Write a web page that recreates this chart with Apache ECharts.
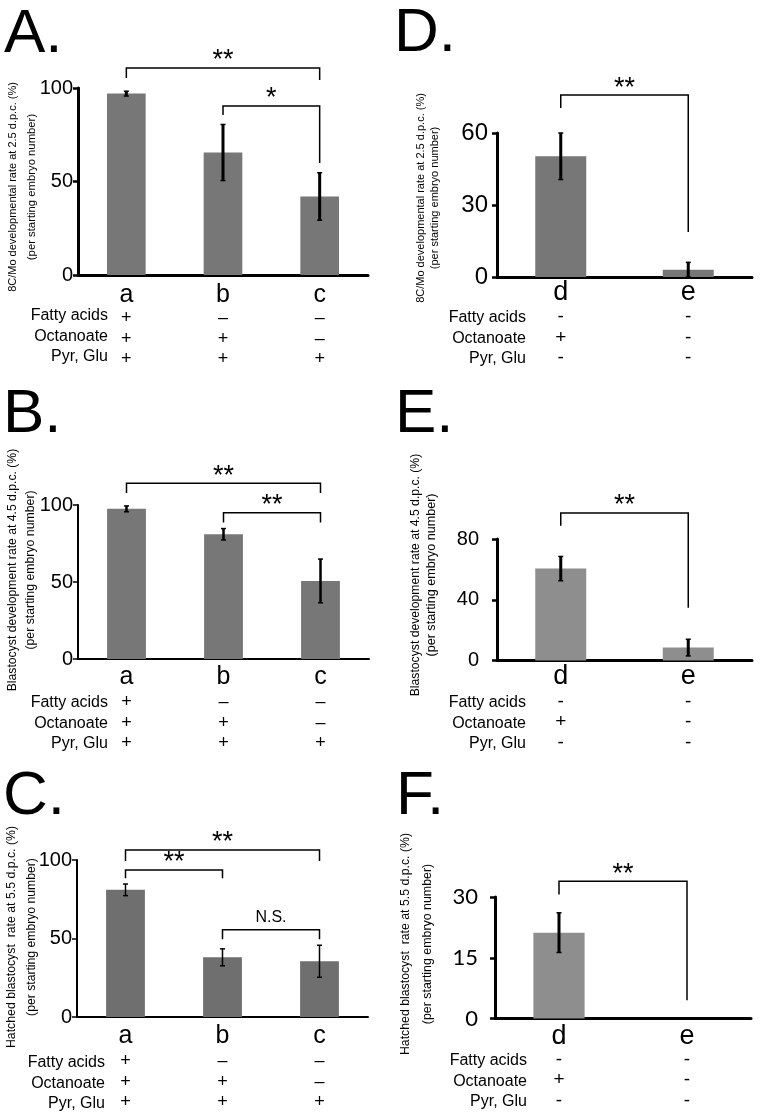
<!DOCTYPE html>
<html>
<head>
<meta charset="utf-8">
<script src="https://cdn.jsdelivr.net/npm/echarts@6/dist/echarts.min.js"></script>
<style>
  html, body { margin: 0; padding: 0; background: #fff; }
  #main { width: 760px; height: 1118px; }
</style>
</head>
<body>
<div id="main"></div>
<script>
// categories and culture conditions
var catsABC = ['a', 'b', 'c'];
var catsDEF = ['d', 'e'];
var rowNames = ['Fatty acids', 'Octanoate', 'Pyr, Glu'];
var marksABC = [['+', '–', '–'], ['+', '+', '–'], ['+', '+', '+']];
var marksDEF = [['-', '-'], ['+', '-'], ['-', '-']];

// means and error bars (%)
var valA = [97, 65.5, 42];    var errA = [1.3, 15, 12.7];
var valB = [97.5, 81, 50.7];  var errB = [1.9, 3.7, 14.2];
var valC = [81, 38, 35.5];    var errC = [3.7, 5.4, 10.2];
var valD = [50.3, 3];         var errD = [9.7, 3.1];
var valE = [60.5, 8.5];       var errE = [8, 5.5];
var valF = [21.2, 0];         var errF = [4.9, 0];

// significance: [from, to, label]
var sigA = [[0, 2, '**'], [1, 2, '*']];
var sigB = [[0, 2, '**'], [1, 2, '**']];
var sigC = [[0, 2, '**'], [0, 1, '**'], [1, 2, 'N.S.']];
var sigD = [[0, 1, '**']];
var sigE = [[0, 1, '**']];
var sigF = [[0, 1, '**']];

// y axis ticks
var ticksA = [0, 50, 100];
var ticksB = [0, 50, 100];
var ticksC = [0, 50, 100];
var ticksD = [0, 30, 60];
var ticksE = [0, 40, 80];
var ticksF = [0, 15, 30];

var title2 = '(per starting embryo number)';

var FONT = '"Liberation Sans", Arial, sans-serif';

// layout of each panel
var panels = [
  { cats: catsABC, vals: valA, errs: errA, sig: sigA, ticks: ticksA, marks: marksABC,
    grid: { left: 78, top: 88, width: 290, height: 187 }, color: '#777777', axisW: 3, errW: 3,
    brk: [[110.7, 105.3, 104.3], [90.4, 85.6, 59.9]],
    letter: [4, 53], t: ['8C/Mo developmental rate at 2.5 d.p.c. (%)', 13, 32, 187, 11, 11.3],
    rows: [108, 316], tickFont: 20, tickMargin: 5, catFont: 25, catLH: 26, labMargin: 7, markFont: 18, lab: 'A.' },
  { cats: catsABC, vals: valB, errs: errB, sig: sigB, ticks: ticksB, marks: marksABC,
    grid: { left: 78, top: 505, width: 291, height: 154 }, color: '#777777', axisW: 2, errW: 2.5,
    brk: [[114.1, 107.8, 107.8], [95, 88.6, 88.6]],
    letter: [3, 433], t: ['Blastocyst development rate at 4.5 d.p.c. (%)', 12.5, 31, 570, 12.2, 12.3],
    rows: [108, 703], tickFont: 20, tickMargin: 5, catFont: 25, catLH: 30, labMargin: 3, markFont: 18, lab: 'B.' },
  { cats: catsABC, vals: valC, errs: errC, sig: sigC, ticks: ticksC, marks: marksABC,
    grid: { left: 77, top: 860, width: 291, height: 157 }, color: '#6f6f6f', axisW: 2, errW: 1.5,
    brk: [[106.4, 99.4, 99.4], [93.7, 88.4, 88.4], [55.6, 49.6, 49.6]],
    letter: [3, 815], t: ['Hatched blastocyst  rate at 5.5 d.p.c. (%)', 12, 32, 937, 12.3, 12.2],
    rows: [105, 1063], tickFont: 20, tickMargin: 5, catFont: 25, catLH: 30, labMargin: 4, markFont: 18, lab: 'C.' },
  { cats: catsDEF, vals: valD, errs: errD, sig: sigD, ticks: ticksD, marks: marksDEF,
    grid: { left: 497, top: 133, width: 255, height: 144 }, color: '#777777', axisW: 3, errW: 3,
    brk: [[75.8, 70.4, 18.8]],
    letter: [394, 52], t: ['8C/Mo developmental rate at 2.5 d.p.c. (%)', 421, 435, 198, 11, 11],
    rows: [526, 318], tickFont: 24, tickMargin: 9, catFont: 27, catLH: 28, labMargin: 2, markFont: 19, lab: 'D.' },
  { cats: catsDEF, vals: valE, errs: errE, sig: sigE, ticks: ticksE, marks: marksDEF,
    grid: { left: 497, top: 539, width: 255, height: 121.5 }, color: '#8e8e8e', axisW: 3, errW: 3,
    brk: [[97.1, 88.8, 34.7]],
    letter: [395, 433], t: ['Blastocyst development rate at 4.5 d.p.c. (%)', 416, 432, 575, 12.2, 12.6],
    rows: [526, 703], tickFont: 20, tickMargin: 18, catFont: 27, catLH: 30, labMargin: 1, markFont: 19, lab: 'E.' },
  { cats: catsDEF, vals: valF, errs: errF, sig: sigF, ticks: ticksF, marks: marksDEF,
    grid: { left: 495, top: 897, width: 256, height: 121.5 }, color: '#8e8e8e', axisW: 3, errW: 3,
    brk: [[33.9, 30.6, 4.5]],
    letter: [396, 815], t: ['Hatched blastocyst  rate at 5.5 d.p.c. (%)', 406, 428, 944, 12.3, 12.4],
    rows: [527, 1061], tickFont: 22, tickMargin: 17, catFont: 27, catLH: 26, labMargin: 5, markFont: 19, lab: 'F.',
    tickFamily: 'Lato, "Open Sans", sans-serif' }
];

var grids = [], xAxes = [], yAxes = [], series = [], graphics = [];

panels.forEach(function (p, k) {
  grids.push(p.grid);

  xAxes.push({
    type: 'category', gridIndex: k, data: p.cats,
    axisLine: { lineStyle: { color: '#000', width: p.axisW } },
    axisTick: { length: 5, lineStyle: { color: '#000', width: p.axisW - 0.5 } },
    axisLabel: {
      interval: 0, margin: p.labMargin, color: '#000', fontFamily: FONT,
      formatter: function (v, idx) {
        var s = '{c|' + v + '}';
        p.marks.forEach(function (row) { s += '\n{m|' + row[idx] + '}'; });
        return s;
      },
      rich: {
        c: { fontSize: p.catFont, lineHeight: p.catLH, fontFamily: FONT, color: '#000' },
        m: { fontSize: p.markFont, lineHeight: 20.5, fontFamily: FONT, color: '#000' }
      }
    }
  });

  var step = p.ticks[1] - p.ticks[0];
  yAxes.push({
    type: 'value', gridIndex: k, min: p.ticks[0], max: p.ticks[p.ticks.length - 1], interval: step,
    axisLine: { show: true, lineStyle: { color: '#000', width: p.axisW } },
    axisTick: { show: true, length: 5, lineStyle: { color: '#000', width: p.axisW - 0.5 } },
    splitLine: { show: false },
    axisLabel: { color: '#000', fontSize: p.tickFont, margin: p.tickMargin,
      fontFamily: p.tickFamily || FONT }
  });

  series.push({
    type: 'bar', xAxisIndex: k, yAxisIndex: k, data: p.vals, z: 2,
    barWidth: '40%', itemStyle: { color: p.color }, silent: true
  });

  // error bars
  var errData = p.vals.map(function (v, i) {
    return [i, Math.max(0, v - p.errs[i]), v + p.errs[i]];
  }).filter(function (d) { return d[2] > d[1]; });
  series.push({
    type: 'custom', xAxisIndex: k, yAxisIndex: k, data: errData, silent: true, z: 10,
    encode: { x: 0, y: [1, 2] },
    renderItem: function (params, api) {
      var i = api.value(0);
      var lo = api.coord([i, api.value(1)]);
      var hi = api.coord([i, api.value(2)]);
      var cw = 2.5;
      return { type: 'group', children: [
        { type: 'line', shape: { x1: lo[0], y1: lo[1], x2: hi[0], y2: hi[1] }, style: { stroke: '#000', lineWidth: p.errW } },
        { type: 'line', shape: { x1: lo[0] - cw, y1: lo[1], x2: lo[0] + cw, y2: lo[1] }, style: { stroke: '#000', lineWidth: 1.5 } },
        { type: 'line', shape: { x1: hi[0] - cw, y1: hi[1], x2: hi[0] + cw, y2: hi[1] }, style: { stroke: '#000', lineWidth: 1.5 } }
      ] };
    }
  });

  // significance brackets
  var brkData = p.sig.map(function (s, j) {
    return [s[0], s[1], p.brk[j][0], p.brk[j][1], p.brk[j][2]];
  });
  series.push({
    type: 'custom', xAxisIndex: k, yAxisIndex: k, data: brkData, silent: true, clip: false, z: 10,
    encode: { x: [0, 1], y: 2 },
    renderItem: function (params, api) {
      var a = api.value(0), b = api.value(1);
      var pTopL = api.coord([a, api.value(2)]);
      var pTopR = api.coord([b, api.value(2)]);
      var pL = api.coord([a, api.value(3)]);
      var pR = api.coord([b, api.value(4)]);
      var txt = p.sig[params.dataIndex][2];
      var ns = txt === 'N.S.';
      return { type: 'group', children: [
        { type: 'polyline', shape: { points: [pL, pTopL, pTopR, pR] },
          style: { stroke: '#000', lineWidth: 1.5, fill: null } },
        { type: 'text', x: (pTopL[0] + pTopR[0]) / 2, y: pTopL[1] - (ns ? 12 : 7),
          style: { text: txt, fontSize: ns ? 16 : 27, fontFamily: FONT, fill: '#000',
            align: 'center', verticalAlign: 'middle' } }
      ] };
    }
  });

  // panel letter
  graphics.push({ type: 'text', x: p.letter[0], y: p.letter[1] + 13, silent: true,
    style: { text: p.lab, fontSize: 62, fontFamily: FONT, fill: '#000', verticalAlign: 'bottom' } });

  // y axis title (two lines, rotated)
  graphics.push({ type: 'text', x: p.t[1], y: p.t[3], rotation: Math.PI / 2, silent: true,
    style: { text: p.t[0], fontSize: p.t[4], fontFamily: FONT, fill: '#000', align: 'center', verticalAlign: 'middle' } });
  graphics.push({ type: 'text', x: p.t[2], y: p.t[3], rotation: Math.PI / 2, silent: true,
    style: { text: title2, fontSize: p.t[5], fontFamily: FONT, fill: '#000', align: 'center', verticalAlign: 'middle' } });

  // condition row names
  rowNames.forEach(function (name, r) {
    graphics.push({ type: 'text', x: p.rows[0], y: p.rows[1] + r * 20.5, silent: true,
      style: { text: name, fontSize: 16, fontFamily: FONT, fill: '#000', align: 'right', verticalAlign: 'middle' } });
  });
});

var chart = echarts.init(document.getElementById('main'));
chart.setOption({
  animation: false,
  backgroundColor: '#fff',
  grid: grids,
  xAxis: xAxes,
  yAxis: yAxes,
  series: series,
  graphic: graphics
});
</script>
</body>
</html>
